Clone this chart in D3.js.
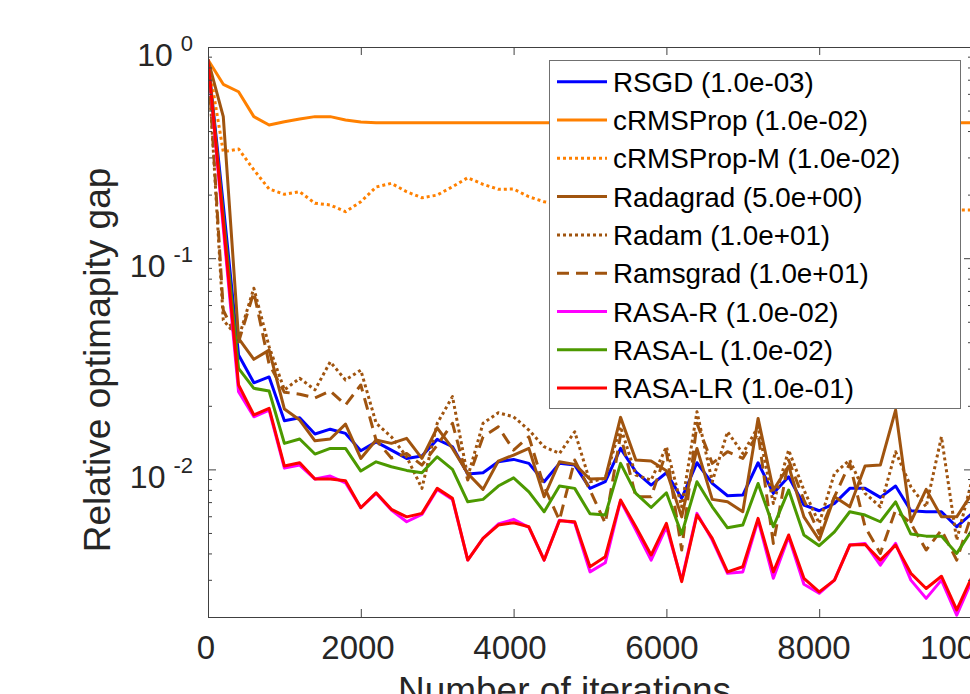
<!DOCTYPE html>
<html><head><meta charset="utf-8">
<script src="https://cdn.jsdelivr.net/npm/d3@7"></script>
<style>
html,body{margin:0;padding:0;background:#fff;overflow:hidden;width:970px;height:694px}
svg{display:block;font-family:"Liberation Sans",Arial,Helvetica,sans-serif}
</style>
</head><body>
<svg id="c" width="1000" height="720"></svg>
<script>
// ---------------- data ----------------
const iterations = [0,200,400,600,800,1000,1200,1400,1600,1800,2000,2200,2400,2600,2800,3000,3200,3400,3600,3800,4000,4200,4400,4600,4800,5000,5200,5400,5600,5800,6000,6200,6400,6600,6800,7000,7200,7400,7600,7800,8000,8200,8400,8600,8800,9000,9200,9400,9600,9800,10000];
const seriesNames = ["RSGD (1.0e-03)","cRMSProp (1.0e-02)","cRMSProp-M (1.0e-02)","Radagrad (5.0e+00)","Radam (1.0e+01)","Ramsgrad (1.0e+01)","RASA-R (1.0e-02)","RASA-L (1.0e-02)","RASA-LR (1.0e-01)"];
const rsgd = [0.87,0.179,0.0348,0.0257,0.0274,0.0170,0.01755,0.0147,0.0155,0.0148,0.01225,0.0135,0.01234,0.01127,0.01156,0.01387,0.0128,0.0095,0.00964,0.01086,0.01115,0.01068,0.00874,0.01068,0.01048,0.00813,0.00874,0.01257,0.00974,0.00843,0.00964,0.00729,0.01075,0.00858,0.0075,0.00756,0.01075,0.0077,0.00923,0.00678,0.00637,0.0069,0.00813,0.00813,0.00737,0.00834,0.00637,0.0063,0.0063,0.00535,0.00619];
const crmsprop = [0.87,0.666,0.614,0.468,0.427,0.443,0.456,0.468,0.468,0.451,0.441,0.438,0.438,0.438,0.438,0.438,0.438,0.438,0.438,0.438,0.438,0.438,0.438,0.438,0.438,0.438,0.438,0.438,0.438,0.438,0.438,0.438,0.438,0.438,0.438,0.438,0.438,0.438,0.438,0.438,0.438,0.438,0.438,0.438,0.438,0.438,0.438,0.438,0.438,0.438,0.438];
const crmspropM = [0.87,0.319,0.329,0.262,0.2126,0.2006,0.2064,0.182,0.1786,0.166,0.185,0.2173,0.2262,0.2064,0.1933,0.199,0.218,0.2404,0.2238,0.212,0.2126,0.1954,0.185,0.18,0.176,0.174,0.172,0.175,0.178,0.174,0.171,0.17,0.172,0.175,0.173,0.17,0.169,0.171,0.173,0.171,0.169,0.168,0.17,0.171,0.169,0.168,0.169,0.17,0.169,0.169,0.169];
const radagrad = [0.87,0.468,0.0417,0.0332,0.0367,0.0193,0.01712,0.01366,0.01392,0.01639,0.01127,0.01377,0.01328,0.01402,0.01127,0.01574,0.01257,0.00957,0.00804,0.01095,0.01169,0.01257,0.00742,0.01086,0.01056,0.009,0.00906,0.01763,0.01107,0.01095,0.00985,0.00596,0.01257,0.00721,0.00702,0.0063,0.01743,0.00798,0.01037,0.00596,0.00463,0.00742,0.00665,0.01037,0.01048,0.0191,0.00565,0.00804,0.00596,0.00596,0.0077];
const radam = [0.87,0.0509,0.0418,0.0721,0.0381,0.0238,0.027,0.0238,0.0323,0.0265,0.0295,0.01657,0.01427,0.01147,0.00813,0.01652,0.0221,0.00923,0.01652,0.01854,0.01774,0.01535,0.0128,0.0119,0.01507,0.00874,0.00906,0.0159,0.0094,0.0089,0.0128,0.00665,0.01875,0.00874,0.01507,0.0119,0.0159,0.0069,0.01234,0.00798,0.00555,0.00957,0.01107,0.0077,0.00665,0.01212,0.00827,0.00665,0.01427,0.00463,0.0089];
const ramsgrad = [0.87,0.0568,0.0401,0.069,0.0315,0.0232,0.0227,0.0218,0.0235,0.0202,0.0251,0.01377,0.01131,0.0119,0.01048,0.01303,0.01652,0.0089,0.01427,0.0159,0.01234,0.01427,0.00827,0.00575,0.01107,0.00798,0.00555,0.01454,0.00742,0.00742,0.01212,0.00415,0.01652,0.01068,0.01212,0.01127,0.0148,0.00446,0.01107,0.00716,0.00498,0.00742,0.01068,0.00535,0.004,0.00642,0.00555,0.00415,0.00516,0.00372,0.00619];
const rasaR = [0.87,0.139,0.0233,0.01774,0.0191,0.01014,0.01048,0.009,0.0093,0.00864,0.00658,0.0077,0.00642,0.00565,0.00612,0.00804,0.00721,0.00372,0.00471,0.00551,0.0058,0.00531,0.00372,0.00575,0.00559,0.00327,0.00361,0.0071,0.00516,0.00372,0.00535,0.00299,0.00619,0.00463,0.00322,0.00327,0.00575,0.00305,0.0048,0.00286,0.00259,0.00299,0.00438,0.00446,0.00352,0.00446,0.00299,0.00245,0.00299,0.00204,0.00299];
const rasaL = [0.87,0.16,0.0301,0.0242,0.0235,0.01328,0.01392,0.01182,0.01257,0.01257,0.00982,0.01086,0.01029,0.00989,0.00964,0.01147,0.01,0.00702,0.00721,0.00834,0.00912,0.00783,0.0063,0.00834,0.00813,0.00616,0.00608,0.01068,0.0077,0.0066,0.00775,0.00494,0.00874,0.00665,0.00529,0.00545,0.00858,0.00535,0.00798,0.00489,0.00435,0.00506,0.0063,0.00608,0.00565,0.00702,0.00494,0.00483,0.00483,0.004,0.00516];
const rasaLR = [0.87,0.148,0.0251,0.0181,0.01945,0.01037,0.01075,0.009,0.009,0.00883,0.00658,0.00775,0.00647,0.00596,0.00619,0.00813,0.00729,0.00372,0.00471,0.00545,0.00559,0.00535,0.00372,0.00571,0.00565,0.00346,0.00386,0.00716,0.00535,0.00393,0.00555,0.00294,0.00608,0.00471,0.00327,0.00346,0.00586,0.00327,0.00489,0.00305,0.00263,0.00299,0.00438,0.00441,0.00372,0.00438,0.00322,0.00273,0.00312,0.00216,0.0031];
const xTicks = [0,2000,4000,6000,8000,10000];
const yTicks = [0.01,0.1,1];
const xLabel = "Number of iterations";
const yLabel = "Relative optimapity gap";

// ---------------- styles ----------------
const seriesValues = [rsgd,crmsprop,crmspropM,radagrad,radam,ramsgrad,rasaR,rasaL,rasaLR];
const colors = ["#0000ff","#ff8000","#ff8000","#a0540f","#a0540f","#a0540f","#ff00ff","#4c9900","#ff0000"];
const dashes = [null,null,"3,3",null,"3,3","12,7",null,null,null];

const svg = d3.select("#c");
const ink = "#262626";
const L = 208, R = 972, T = 47, B = 617;
const x = d3.scaleLinear().domain([0,10000]).range([L,R]);
const y = d3.scaleLog().domain([0.002,1]).range([B,T]);

svg.append("defs").append("clipPath").attr("id","clip")
  .append("rect").attr("x",L).attr("y",T-2).attr("width",R-L+2).attr("height",B-T+3);

// data lines
const line = d3.line().x((d,i)=>x(iterations[i])).y(d=>y(d));
const g = svg.append("g").attr("clip-path","url(#clip)");
seriesValues.forEach((vals,k)=>{
  g.append("path").attr("d",line(vals)).attr("fill","none")
    .attr("stroke",colors[k]).attr("stroke-width",3)
    .attr("stroke-linejoin","round")
    .attr("stroke-dasharray",dashes[k]);
});

// axes
const minors = [];
[0.001,0.01,0.1].forEach(b=>{for(let m=2;m<=9;m++){const v=b*m; if(v>=0.002&&v<1) minors.push(v);}});
function styleAxis(sel){sel.selectAll("path,line").attr("stroke","#404040").attr("stroke-width",1);sel.selectAll("text").remove();}
svg.append("g").attr("transform",`translate(0,${B})`).call(d3.axisBottom(x).tickValues(xTicks).tickSize(-8).tickSizeOuter(0)).call(styleAxis);
svg.append("g").attr("transform",`translate(0,${T})`).call(d3.axisTop(x).tickValues(xTicks).tickSize(-8).tickSizeOuter(0)).call(styleAxis);
svg.append("g").attr("transform",`translate(${L},0)`).call(d3.axisLeft(y).tickValues(yTicks).tickSize(-8).tickSizeOuter(0)).call(styleAxis);
svg.append("g").attr("transform",`translate(${L},0)`).call(d3.axisLeft(y).tickValues(minors).tickSize(-4).tickSizeOuter(0)).call(styleAxis).select(".domain").remove();
svg.append("g").attr("transform",`translate(${R},0)`).call(d3.axisRight(y).tickValues(yTicks).tickSize(-8).tickSizeOuter(0)).call(styleAxis);
svg.append("g").attr("transform",`translate(${R},0)`).call(d3.axisRight(y).tickValues(minors).tickSize(-4).tickSizeOuter(0)).call(styleAxis).select(".domain").remove();

// x tick labels
svg.append("g").selectAll("text").data(xTicks).join("text")
  .attr("x",d=>x(d)-2-4*d/10000).attr("y",659)
  .attr("text-anchor","middle").attr("font-size",33).attr("fill",ink)
  .text(d=>d3.format("d")(d));

// y tick labels 10^k
const yl = svg.append("g").selectAll("text").data(yTicks).join("text")
  .attr("x",193).attr("y",d=>y(d)+18.5).attr("text-anchor","end").attr("fill",ink);
yl.append("tspan").attr("font-size",32).text("10");
yl.append("tspan").attr("font-size",22).attr("dx",8).attr("dy",-15).text(d=>String(Math.round(Math.log10(d))));

// axis labels
svg.append("text").attr("transform","translate(110,360) rotate(-90)")
  .attr("text-anchor","middle").attr("font-size",37).attr("fill",ink).text(yLabel);
svg.append("text").attr("x",564.5).attr("y",702.5)
  .attr("text-anchor","middle").attr("font-size",37).attr("fill",ink).text(xLabel);

// legend
const lg = svg.append("g");
lg.append("rect").attr("x",549.5).attr("y",60.5).attr("width",411).attr("height",348)
  .attr("fill","#fff").attr("stroke","#707070").attr("stroke-width",1);
seriesNames.forEach((name,k)=>{
  const ry = 81.7 + k*38.3;
  lg.append("line").attr("x1",557).attr("x2",607).attr("y1",ry).attr("y2",ry)
    .attr("stroke",colors[k]).attr("stroke-width",3).attr("stroke-dasharray",dashes[k]);
  lg.append("text").attr("x",613).attr("y",ry+10).attr("font-size",27.8).attr("fill","#000").text(name);
});
</script>
</body></html>
